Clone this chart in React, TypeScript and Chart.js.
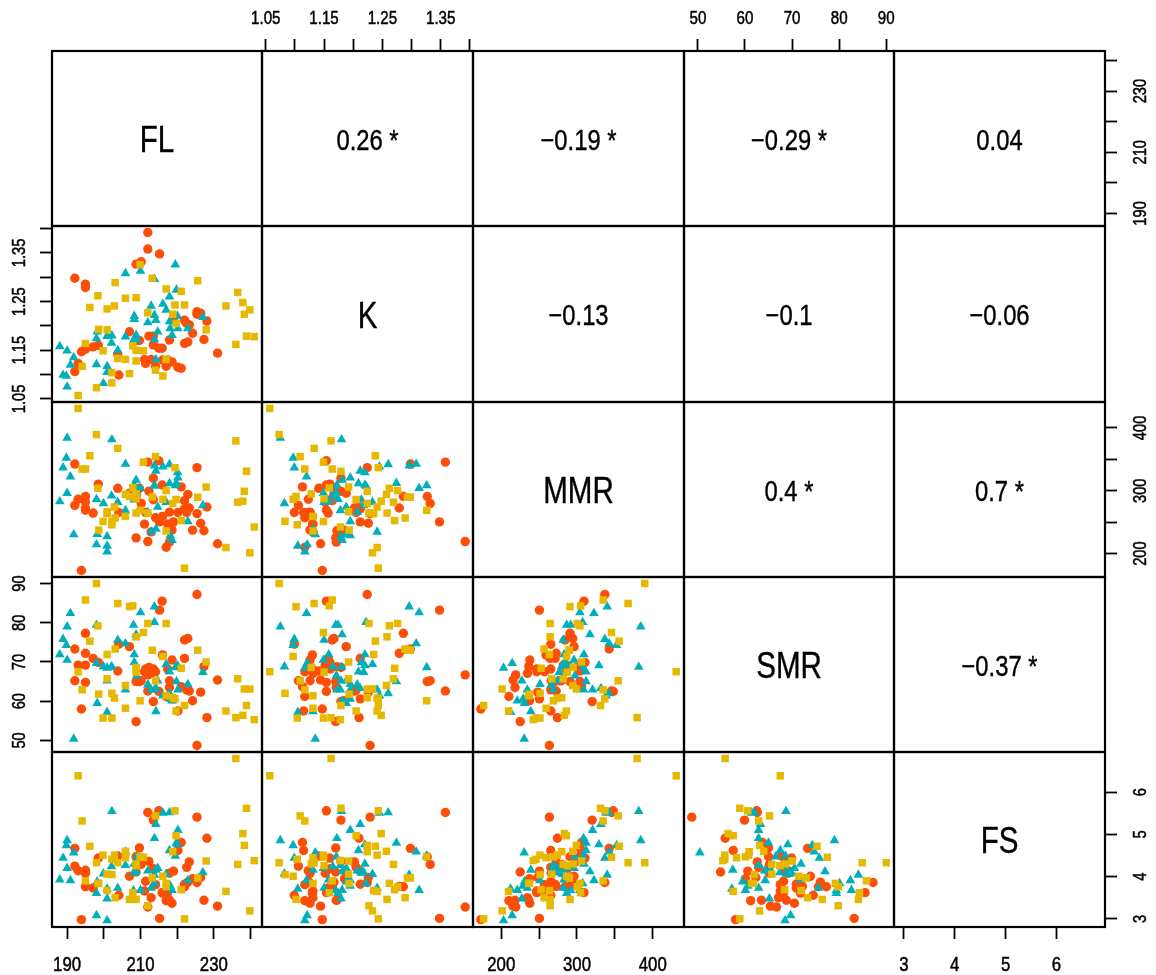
import React, { useEffect, useRef } from 'react';
import { Chart, registerables } from 'chart.js';

Chart.register(...registerables);

// ---------------- data ----------------
const VAR_NAMES = ['FL', 'K', 'MMR', 'SMR', 'FS'];

const UPPER_TEXT: string[][] = [
  ['', '0.26 *', '\u22120.19 *', '\u22120.29 *', '0.04'],
  ['', '', '\u22120.13', '\u22120.1', '\u22120.06'],
  ['', '', '', '0.4 *', '0.7 *'],
  ['', '', '', '', '\u22120.37 *'],
  ['', '', '', '', ''],
];

const FL_TICKS = [190, 200, 210, 220, 230, 240];
const FL_LABELS = ['190', '', '210', '', '230', ''];
const K_TICKS = [1.05, 1.1, 1.15, 1.2, 1.25, 1.3, 1.35, 1.4];
const K_LABELS = ['1.05', '', '1.15', '', '1.25', '', '1.35', ''];
const MMR_TICKS = [200, 250, 300, 350, 400];
const MMR_LABELS = ['200', '', '300', '', '400'];
const SMR_TICKS = [50, 60, 70, 80, 90];
const SMR_LABELS = ['50', '60', '70', '80', '90'];
const FS_TICKS = [3, 4, 5, 6];
const FS_LABELS = ['3', '4', '5', '6'];

const tealFL = [188.0, 188.9, 189.8, 190.0, 190.0, 190.9, 191.8, 198.0, 198.0, 198.2,
  199.9, 200.9, 200.9, 200.9, 202.1, 203.8, 205.9, 205.9, 208.1, 208.3,
  208.3, 208.8, 209.0, 210.0, 212.0, 213.8, 213.8, 213.8, 214.2, 214.2,
  217.0, 217.9, 218.1, 218.6, 220.1, 220.2, 222.9, 227.0, 202.2, 216.1,
  217.9, 219.8, 212.9, 219.5, 214.7];
const tealK = [1.158, 1.099, 1.097, 1.075, 1.149, 1.120, 1.135, 1.174, 1.121, 1.188,
  1.082, 1.117, 1.179, 1.105, 1.165, 1.150, 1.308, 1.178, 1.170, 1.220,
  1.214, 1.181, 1.171, 1.313, 1.207, 1.296, 1.222, 1.172, 1.212, 1.131,
  1.233, 1.209, 1.195, 1.181, 1.220, 1.195, 1.195, 1.218, 1.180, 1.245,
  1.260, 1.274, 1.241, 1.326, 1.188];
const tealMMR = [282.9, 336.8, 352.2, 384.2, 296.1, 322.4, 230.3, 286.4, 214.4, 230.7,
  279.8, 203.0, 227.2, 212.3, 292.0, 281.8, 342.5, 268.7, 291.7, 309.2,
  285.6, 317.1, 297.4, 303.9, 266.0, 339.9, 307.5, 308.7, 331.6, 239.0,
  281.8, 311.8, 229.0, 221.2, 329.0, 320.6, 251.2, 276.6, 381.6, 338.4,
  342.0, 312.0, 234.4, 308.3, 274.1];
const tealSMR = [71.9, 75.8, 74.3, 79.0, 70.5, 82.4, 50.4, 79.4, 69.7, 59.5,
  68.8, 68.5, 65.2, 57.2, 68.8, 75.6, 74.7, 62.9, 79.4, 71.9,
  69.9, 77.0, 66.5, 82.6, 64.2, 84.1, 80.1, 62.9, 63.3, 57.4,
  69.4, 67.5, 60.6, 60.1, 69.1, 62.9, 64.3, 67.4, 68.7, 61.4,
  62.0, 65.0, 62.9, 68.6, 65.2];
const tealFS = [3.93, 4.44, 4.74, 4.86, 4.20, 3.91, 4.57, 3.61, 3.08, 3.88,
  4.07, 2.96, 3.48, 3.71, 4.24, 3.73, 4.59, 4.27, 3.67, 4.30,
  4.09, 4.12, 4.47, 3.68, 4.14, 4.04, 3.84, 4.91, 5.24, 4.16,
  4.06, 4.62, 3.78, 3.68, 4.76, 5.10, 3.91, 4.10, 5.55, 5.51,
  5.52, 4.80, 3.73, 4.49, 4.20];

const yellowFL = [193.0, 194.1, 195.0, 196.2, 198.0, 198.4, 198.6, 199.8, 200.9, 200.9,
  202.2, 202.2, 202.9, 203.1, 203.8, 205.9, 205.9, 207.0, 207.9, 208.8,
  208.8, 208.8, 209.9, 210.8, 212.0, 213.2, 214.1, 216.1, 217.0, 217.0,
  218.8, 219.4, 219.7, 221.1, 222.0, 225.6, 227.9, 233.3, 236.0, 236.5,
  237.9, 238.3, 238.9, 239.8, 241.0];
const yellowK = [1.057, 1.117, 1.164, 1.238, 1.073, 1.262, 1.193, 1.149, 1.235, 1.192,
  1.104, 1.083, 1.241, 1.289, 1.133, 1.257, 1.131, 1.102, 1.159, 1.258,
  1.150, 1.128, 1.326, 1.149, 1.227, 1.298, 1.109, 1.097, 1.276, 1.131,
  1.224, 1.243, 1.205, 1.271, 1.243, 1.293, 1.192, 1.241, 1.162, 1.269,
  1.248, 1.224, 1.179, 1.233, 1.178];
const yellowMMR = [431.0, 334.6, 334.6, 355.7, 389.5, 303.9, 237.3, 251.1, 263.6, 266.7,
  245.9, 251.3, 274.1, 256.6, 367.5, 294.3, 259.2, 290.8, 304.8, 264.5,
  287.3, 295.0, 268.9, 345.6, 264.5, 289.9, 354.4, 286.4, 300.4, 236.0,
  279.8, 336.8, 286.0, 252.6, 176.8, 289.7, 306.0, 209.6, 379.4, 281.8,
  283.4, 299.2, 331.1, 201.2, 242.3];
const yellowSMR = [67.5, 62.9, 85.8, 75.3, 90.0, 79.2, 61.8, 55.7, 71.9, 65.7,
  55.7, 62.0, 60.8, 73.3, 84.9, 64.0, 58.2, 84.1, 84.3, 76.4,
  67.4, 68.6, 60.1, 77.5, 79.8, 73.0, 65.2, 71.4, 79.8, 61.4,
  60.9, 60.6, 57.5, 68.4, 58.9, 73.0, 70.0, 57.5, 55.8, 65.7,
  56.4, 63.1, 58.9, 63.1, 55.3];
const yellowFS = [6.39, 5.32, 3.90, 4.72, 4.33, 3.84, 3.84, 4.51, 3.67, 4.06,
  4.41, 4.05, 4.51, 3.50, 4.33, 4.60, 4.45, 3.46, 3.62, 3.46,
  4.26, 4.30, 4.47, 4.46, 3.31, 3.97, 5.44, 4.01, 3.76, 3.84,
  4.59, 5.56, 4.97, 3.69, 3.00, 3.97, 4.37, 3.65, 6.80, 4.29,
  5.02, 4.74, 5.62, 3.19, 4.38];

const orangeFL = [192.1, 192.1, 193.0, 193.9, 195.0, 195.0, 195.0, 195.0, 197.1, 198.5,
  203.8, 204.1, 207.0, 208.8, 208.8, 210.2, 211.1, 211.4, 212.0, 212.0,
  212.3, 212.9, 213.5, 213.5, 214.1, 215.2, 215.9, 217.0, 217.4, 217.9,
  217.9, 218.6, 220.2, 221.1, 222.0, 222.0, 222.9, 223.3, 224.2, 225.4,
  225.4, 226.4, 227.3, 228.1, 231.0, 215.0, 209.7, 216.0, 219.0, 222.6];
const orangeK = [1.298, 1.106, 1.123, 1.147, 1.286, 1.279, 1.152, 1.154, 1.157, 1.160,
  1.141, 1.099, 1.188, 1.327, 1.170, 1.332, 1.131, 1.123, 1.392, 1.358,
  1.179, 1.131, 1.161, 1.179, 1.117, 1.348, 1.154, 1.117, 1.130, 1.126,
  1.171, 1.126, 1.115, 1.113, 1.212, 1.164, 1.167, 1.202, 1.185, 1.224,
  1.229, 1.226, 1.172, 1.210, 1.144, 1.154, 1.170, 1.130, 1.212, 1.205];
const orangeMMR = [342.5, 276.8, 286.4, 173.0, 290.8, 272.5, 282.0, 268.9, 264.5, 310.5,
  303.9, 265.4, 296.1, 290.8, 225.0, 279.8, 246.9, 265.4, 219.1, 345.6,
  299.3, 234.6, 285.6, 320.0, 257.0, 250.4, 309.2, 210.1, 247.0, 266.0,
  218.2, 237.7, 265.4, 306.1, 271.1, 284.2, 294.3, 272.5, 237.3, 336.8,
  263.6, 248.2, 236.4, 274.1, 215.6, 347.8, 303.9, 259.2, 250.4, 265.4];
const orangeSMR = [73.3, 65.2, 69.2, 58.0, 77.3, 72.2, 69.2, 64.8, 70.9, 69.9,
  67.7, 74.5, 73.9, 65.0, 54.8, 65.2, 67.5, 68.2, 66.7, 62.6,
  68.6, 67.1, 68.2, 59.9, 67.5, 83.2, 85.5, 61.2, 68.2, 65.2,
  63.5, 70.5, 57.5, 63.7, 70.9, 75.6, 76.0, 62.6, 60.1, 87.2,
  48.7, 62.3, 68.8, 55.8, 65.4, 62.5, 65.0, 71.8, 60.6, 62.9];
const orangeFS = [4.67, 4.25, 4.14, 2.98, 3.76, 3.77, 4.08, 4.15, 3.73, 4.44,
  4.49, 3.56, 4.01, 4.47, 4.11, 4.29, 3.66, 3.89, 3.28, 5.52,
  4.36, 3.50, 4.19, 5.34, 3.81, 3.01, 3.62, 3.43, 3.62, 4.08,
  3.44, 3.37, 4.62, 4.81, 3.82, 3.76, 3.87, 4.35, 3.95, 3.86,
  5.41, 3.98, 3.44, 4.91, 3.30, 5.56, 4.68, 3.61, 4.13, 4.22];

// ---------------- derived tables ----------------
const TICKS = [FL_TICKS, K_TICKS, MMR_TICKS, SMR_TICKS, FS_TICKS];
const LABELS = [FL_LABELS, K_LABELS, MMR_LABELS, SMR_LABELS, FS_LABELS];

// Chart.js paints datasets last-to-first: orange first, yellow on top
const GROUPS = [
  { color: '#E7B800', style: 'rect', radius: 5.3, vars: [yellowFL, yellowK, yellowMMR, yellowSMR, yellowFS] },
  { color: '#00AFBB', style: 'triangle', radius: 5.6, vars: [tealFL, tealK, tealMMR, tealSMR, tealFS] },
  { color: '#FC4E07', style: 'circle', radius: 4.7, vars: [orangeFL, orangeK, orangeMMR, orangeSMR, orangeFS] },
];

const RANGES = VAR_NAMES.map((_, v) => {
  const all = GROUPS.flatMap((g) => g.vars[v]);
  const lo = Math.min(...all);
  const hi = Math.max(...all);
  const ext = (hi - lo) * 0.04;
  return [lo - ext, hi + ext];
});

// ---------------- layout ----------------
const COL_EDGES = [52, 262, 473, 684, 894, 1105];
const ROW_EDGES = [51, 226, 402, 577, 752, 927];
const M = 60;
const FONT = "'Liberation Sans', Arial, sans-serif";

function drawCondensed(
  ctx: CanvasRenderingContext2D,
  text: string,
  x: number,
  y: number,
  size: number,
  squeeze: number,
  rotate: boolean,
  weight: number
) {
  ctx.save();
  ctx.translate(x, y);
  if (rotate) ctx.rotate(-Math.PI / 2);
  ctx.scale(squeeze, 1);
  ctx.font = `${size}px ${FONT}`;
  ctx.textAlign = 'center';
  ctx.textBaseline = 'alphabetic';
  ctx.fillText(text, 0, size * 0.36);
  if (weight > 0) {
    ctx.lineWidth = weight;
    ctx.strokeStyle = '#000';
    ctx.strokeText(text, 0, size * 0.36);
  }
  ctx.restore();
}

function makeAxis(axis: 'x' | 'y', v: number, position: string, show: boolean) {
  return {
    type: 'linear',
    position,
    display: show,
    min: RANGES[v][0],
    max: RANGES[v][1],
    bounds: 'data',
    afterBuildTicks: (s: any) => {
      s.ticks = TICKS[v].map((t) => ({ value: t }));
    },
    afterFit: (s: any) => {
      if (!show) return;
      if (axis === 'x') s.height = M;
      else s.width = M;
    },
    grid: {
      display: true,
      drawOnChartArea: false,
      drawTicks: true,
      tickLength: 12,
      tickColor: '#000',
      tickWidth: 1.8,
      color: '#000',
    },
    border: { display: false },
    ticks: {
      display: false,
      autoSkip: false,
      maxRotation: 0,
      minRotation: 0,
    },
  };
}

function Panel({ r, c }: { r: number; c: number }) {
  const ref = useRef<HTMLCanvasElement>(null);
  const x0 = COL_EDGES[c];
  const x1 = COL_EDGES[c + 1];
  const y0 = ROW_EDGES[r];
  const y1 = ROW_EDGES[r + 1];
  const w = x1 - x0 + 2 * M;
  const h = y1 - y0 + 2 * M;

  useEffect(() => {
    if (!ref.current) return;
    const hasTop = r === 0 && c % 2 === 1;
    const hasBottom = r === 4 && c % 2 === 0;
    const hasLeft = c === 0 && r % 2 === 1;
    const hasRight = c === 4 && r % 2 === 0;

    const datasets =
      r > c
        ? GROUPS.map((g) => ({
            data: g.vars[c].map((xv, i) => ({ x: xv, y: g.vars[r][i] })),
            pointStyle: g.style,
            pointRadius: g.radius,
            pointHoverRadius: g.radius,
            backgroundColor: g.color,
            borderColor: g.color,
            borderWidth: 0,
            pointBorderWidth: 0,
            showLine: false,
          }))
        : [];

    const text = r === c ? VAR_NAMES[r] : r < c ? UPPER_TEXT[r][c] : '';
    const textSize = r === c ? 36 : 29;

    const decor = {
      id: 'decor',
      afterDraw(chart: any) {
        const { ctx, chartArea: a } = chart;
        ctx.save();
        ctx.fillStyle = '#000';
        if (text) {
          drawCondensed(ctx, text, (a.left + a.right) / 2, (a.top + a.bottom) / 2 + 1, textSize, 0.82, false, 0.4);
        }
        if (hasTop || hasBottom) {
          const xs = chart.scales.x;
          const ly = hasBottom ? a.bottom + 36 : a.top - 33;
          const size = hasBottom ? 21 : 18;
          const sq = hasBottom ? 0.8 : 0.84;
          TICKS[c].forEach((t, i) => {
            const lab = LABELS[c][i];
            if (lab) drawCondensed(ctx, lab, xs.getPixelForValue(t), ly, size, sq, false, 0.5);
          });
        }
        if (hasLeft || hasRight) {
          const ys = chart.scales.y;
          const lx = hasLeft ? a.left - 33 : a.right + 35;
          TICKS[r].forEach((t, i) => {
            const lab = LABELS[r][i];
            if (lab) drawCondensed(ctx, lab, lx, ys.getPixelForValue(t), 17.5, 0.84, true, 0.5);
          });
        }
        ctx.strokeStyle = '#000';
        ctx.lineWidth = 2.2;
        ctx.strokeRect(a.left, a.top, a.right - a.left, a.bottom - a.top);
        ctx.restore();
      },
    };

    const chart = new Chart(ref.current, {
      type: 'scatter',
      data: { datasets } as any,
      options: {
        animation: false,
        responsive: false,
        devicePixelRatio: 1,
        events: [],
        layout: {
          padding: {
            left: hasLeft ? 0 : M,
            right: hasRight ? 0 : M,
            top: hasTop ? 0 : M,
            bottom: hasBottom ? 0 : M,
          },
        },
        plugins: { legend: { display: false }, tooltip: { enabled: false } },
        scales: {
          x: makeAxis('x', c, hasTop ? 'top' : 'bottom', hasTop || hasBottom),
          y: makeAxis('y', r, hasRight ? 'right' : 'left', hasLeft || hasRight),
        } as any,
      } as any,
      plugins: [decor],
    });
    return () => chart.destroy();
  }, [r, c]);

  return (
    <canvas
      ref={ref}
      width={w}
      height={h}
      style={{ position: 'absolute', left: x0 - M, top: y0 - M, width: w, height: h }}
    />
  );
}

export default function App() {
  const panels = [];
  for (let r = 0; r < 5; r++) {
    for (let c = 0; c < 5; c++) {
      panels.push(<Panel key={`${r}-${c}`} r={r} c={c} />);
    }
  }
  return (
    <div
      style={{
        position: 'absolute',
        left: 0,
        top: 0,
        width: 1156,
        height: 975,
        background: '#fff',
        overflow: 'hidden',
      }}
    >
      {panels}
    </div>
  );
}
